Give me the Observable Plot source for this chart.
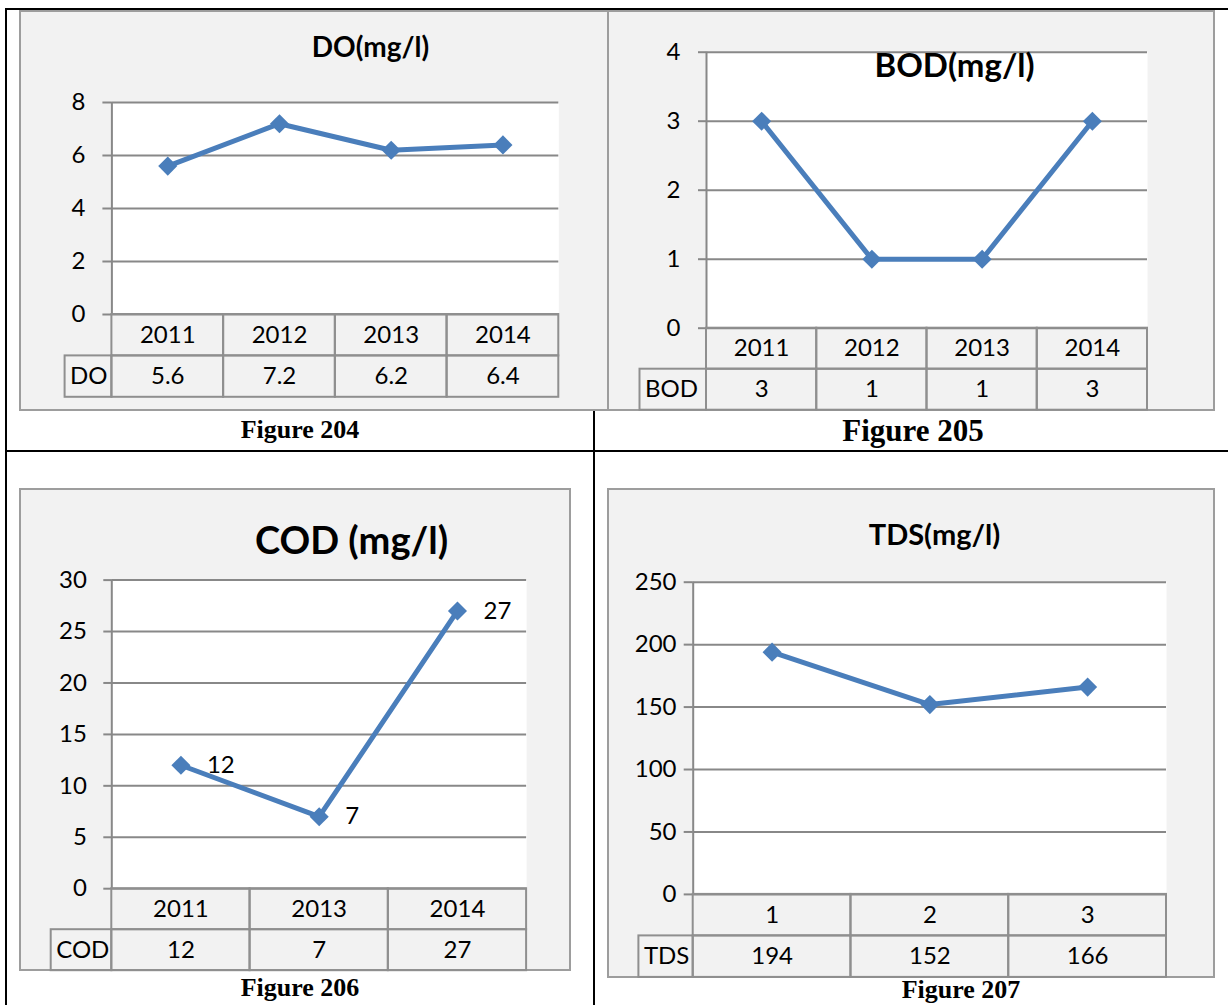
<!DOCTYPE html>
<html><head><meta charset="utf-8">
<script src="https://cdn.jsdelivr.net/npm/d3@7"></script>
<script src="https://cdn.jsdelivr.net/npm/@observablehq/plot@0.6"></script>
<style>
html,body{margin:0;padding:0;background:#fff;}
body{width:1228px;height:1005px;position:relative;overflow:hidden;font-family:Lato,"Open Sans",sans-serif;}
.rule{position:absolute;background:#000;}
.box{position:absolute;border:2px solid #9d9d9d;background:#f2f2f2;}
.box svg{display:block;}
.cap{position:absolute;font-family:"Liberation Serif","Times New Roman",serif;font-weight:bold;color:#000;white-space:nowrap;transform:translateX(-50%);line-height:1;}
</style></head><body>
<script>
// ---- data ----
const doYears = ["2011", "2012", "2013", "2014"];
const doValues = [5.6, 7.2, 6.2, 6.4];
const doTicks = [0, 2, 4, 6, 8];

const bodYears = ["2011", "2012", "2013", "2014"];
const bodValues = [3, 1, 1, 3];
const bodTicks = [0, 1, 2, 3, 4];

const codYears = ["2011", "2013", "2014"];
const codValues = [12, 7, 27];
const codTicks = [0, 5, 10, 15, 20, 25, 30];

const tdsCats = ["1", "2", "3"];
const tdsValues = [194, 152, 166];
const tdsTicks = [0, 50, 100, 150, 200, 250];

const BLUE = "#4a7ebb";
const GRID = "#888888";
const CELL = "#8f8f8f";

function addRule(x, y, w, h) {
  const d = document.createElement("div");
  d.className = "rule";
  Object.assign(d.style, {left: x + "px", top: y + "px", width: w + "px", height: h + "px"});
  document.body.appendChild(d);
}
function addCaption(text, cx, top, size) {
  const d = document.createElement("div");
  d.className = "cap";
  d.textContent = text;
  Object.assign(d.style, {left: cx + "px", top: top + "px", fontSize: size + "px"});
  document.body.appendChild(d);
}

function chart(cfg) {
  const {cats, values, ticks, rowLabel, title, box, m, tickSize, tickPadding,
         labelPx, rowPx, titleSize, titleX, titleY, dataLabels} = cfg;
  const W = box.w - 4, H = box.h - 4;
  const n = cats.length;
  const ymax = ticks[ticks.length - 1];
  const pw = W - m.l - m.r, ph = H - m.t - m.b;
  const uy = ymax / ph, ux = n / pw;
  const rowH = rowPx * uy;
  const rows = cats.map((c, i) => ({i, cat: c, v: values[i]}));
  const labelX1 = -labelPx * ux;
  const dataCells = [{x1: labelX1, x2: 0}, ...rows.map(d => ({x1: d.i, x2: d.i + 1}))];
  const fs = 24;
  const marks = [
    Plot.frame({fill: "#ffffff", stroke: null}),
    Plot.gridY(ticks, {stroke: GRID, strokeOpacity: 1, strokeWidth: 2}),
    Plot.axisY(ticks, {tickSize, tickPadding, stroke: GRID, strokeWidth: 2, fill: "#000", fontSize: fs, label: null, tickFormat: d => String(d)}),
    Plot.ruleX([0], {y1: 0, y2: ymax, stroke: GRID, strokeWidth: 2}),
    Plot.rect(rows, {x1: d => d.i, x2: d => d.i + 1, y1: 0, y2: -rowH, stroke: CELL, strokeWidth: 2, fill: "none"}),
    Plot.rect(dataCells, {x1: "x1", x2: "x2", y1: -rowH, y2: -2 * rowH, stroke: CELL, strokeWidth: 2, fill: "none"}),
    Plot.text(rows, {x: d => d.i + 0.5, y: -rowH / 2, text: "cat", fill: "#000", fontSize: fs}),
    Plot.text(rows, {x: d => d.i + 0.5, y: -1.5 * rowH, text: d => String(d.v), fill: "#000", fontSize: fs}),
    Plot.text([rowLabel], {x: labelX1, y: -1.5 * rowH, text: d => d, textAnchor: "start", dx: 5, fill: "#000", fontSize: fs}),
    Plot.line(rows, {x: d => d.i + 0.5, y: "v", stroke: BLUE, strokeWidth: 5}),
    Plot.dot(rows, {x: d => d.i + 0.5, y: "v", symbol: "diamond2", r: 8.6, fill: BLUE, stroke: null})
  ];
  if (dataLabels) {
    marks.push(Plot.text(rows, {x: d => d.i + 0.5, y: "v", text: d => String(d.v), textAnchor: "start", dx: 26, fill: "#000", fontSize: fs}));
  }
  marks.push(Plot.text([title], {frameAnchor: "top-left", dx: titleX - m.l, dy: titleY - m.t, text: d => d,
    fontSize: titleSize, fontWeight: "bold", fill: "#000", textAnchor: "middle", lineAnchor: "middle"}));

  const svg = Plot.plot({
    width: W, height: H,
    marginLeft: m.l, marginRight: m.r, marginTop: m.t, marginBottom: m.b,
    x: {type: "linear", domain: [0, n], axis: null},
    y: {type: "linear", domain: [0, ymax], label: null},
    style: {fontFamily: "Lato, 'Open Sans', sans-serif", fontSize: fs + "px", background: "transparent", color: "#000", overflow: "visible"},
    marks
  });
  const div = document.createElement("div");
  div.className = "box";
  Object.assign(div.style, {left: box.x + "px", top: box.y + "px", width: W + "px", height: H + "px"});
  div.appendChild(svg);
  document.body.appendChild(div);
}

// table grid lines of the page
addRule(5, 8, 1223, 2);
addRule(5, 8, 2, 997);
addRule(5, 450, 1223, 2);
addRule(593, 8, 2, 997);

chart({cats: doYears, values: doValues, ticks: doTicks, rowLabel: "DO", title: "DO(mg/l)",
  box: {x: 19, y: 10, w: 590, h: 401}, m: {l: 90.4, r: 48.7, t: 90, b: 95},
  tickSize: 9, tickPadding: 17.4, labelPx: 46.8, rowPx: 41.4, titleSize: 28, titleX: 349, titleY: 36});

chart({cats: bodYears, values: bodValues, ticks: bodTicks, rowLabel: "BOD", title: "BOD(mg/l)",
  box: {x: 607, y: 10, w: 608, h: 401}, m: {l: 97, r: 66, t: 39.7, b: 81.3},
  tickSize: 8, tickPadding: 18, labelPx: 66.5, rowPx: 41, titleSize: 33, titleX: 345, titleY: 54});

chart({cats: codYears, values: codValues, ticks: codTicks, rowLabel: "COD", title: "COD (mg/l)",
  box: {x: 19, y: 488, w: 552, h: 483}, m: {l: 90.3, r: 42.9, t: 89.6, b: 80.8},
  tickSize: 8, tickPadding: 16.9, labelPx: 60.6, rowPx: 41, titleSize: 38, titleX: 330, titleY: 51, dataLabels: true});

chart({cats: tdsCats, values: tdsValues, ticks: tdsTicks, rowLabel: "TDS", title: "TDS(mg/l)",
  box: {x: 607, y: 488, w: 608, h: 490}, m: {l: 83.7, r: 47, t: 91.7, b: 82.1},
  tickSize: 9, tickPadding: 7.7, labelPx: 54.3, rowPx: 41.5, titleSize: 29, titleX: 325, titleY: 45});

addCaption("Figure 204", 300, 417, 26);
addCaption("Figure 205", 913, 415, 31);
addCaption("Figure 206", 300, 975, 26);
addCaption("Figure 207", 961, 977, 26);
</script>
</body></html>
